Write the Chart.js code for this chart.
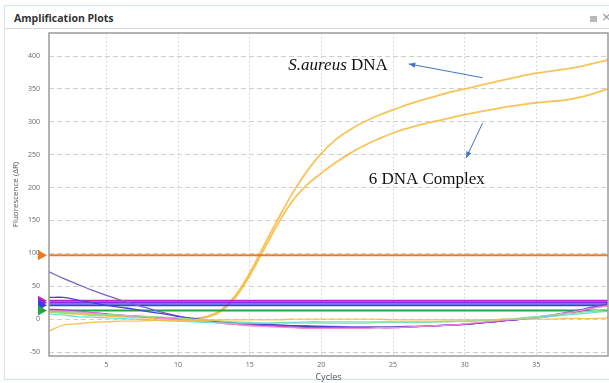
<!DOCTYPE html>
<html lang="en">
<head>
    <meta charset="UTF-8">
    <title>Amplification Plots</title>
    <script src="https://cdn.jsdelivr.net/npm/chart.js"></script>
    <style>
        html, body { margin: 0; padding: 0; background: #fff; }
        #panel {
            position: absolute; left: 4px; top: 5px; width: 620px; height: 375px;
            border: 1px solid #cfe3f5; border-right: none; box-sizing: border-box;
        }
        #header {
            position: absolute; left: 0; top: 0; right: 0; height: 22px;
            border-bottom: 1px solid #d8d8d8;
        }
        #title {
            position: absolute; left: 9px; top: 5px;
            font: bold 10.5px "Open Sans", sans-serif; color: #333;
        }
        #icon-box { position: absolute; left: 585px; top: 10px; width: 7px; height: 6px; background: #b8b8b8; }
        #icon-x { position: absolute; left: 596px; top: 3px; font: 13px "DejaVu Sans", sans-serif; color: #999; }
        #chart-wrap { position: absolute; left: 0; top: 0; width: 609px; height: 383px; }
    </style>
</head>
<body>
    <div id="panel">
        <div id="header">
            <div id="title">Amplification Plots</div>
            <div id="icon-box"></div>
            <div id="icon-x">×</div>
        </div>
    </div>
    <div id="chart-wrap"><canvas id="ampChart" width="609" height="383"></canvas></div>

    <script>
        // cycles 1..40
        const cycles = [1,2,3,4,5,6,7,8,9,10,11,12,13,14,15,16,17,18,19,20,
                        21,22,23,24,25,26,27,28,29,30,31,32,33,34,35,36,37,38,39,40];
        const xTicks = [5, 10, 15, 20, 25, 30, 35];
        const yTicks = [-50, 0, 50, 100, 150, 200, 250, 300, 350, 400];

        // amplified curves
        const saureus = [12,10,9,7,6,5,4,3,2,1,1,4,14,36,70,112,153,192,225,252,
                         273,288,300,310,318,326,333,339,345,350,355,360,365,370,374,377,380,384,389,394];
        const complex6 = [11,9,8,6,5,4,3,2,1,0,0,3,12,33,66,106,146,180,204,222,
                          238,252,264,274,283,290,296,301,306,311,315,319,323,326,329,331,333,337,343,350];

        // non amplified baselines
        const baseSlate = [72,62,53,44,36,29,22,16,10,5,1,-2,-4,-6,-7,-8,-9,-10,-10,-11,
                           -11,-12,-12,-12,-12,-12,-11,-10,-9,-8,-6,-4,-2,0,3,6,10,14,19,24];
        const baseBlue = [33,33,29,25,21,18,15,11,8,4,1,-2,-4,-6,-7,-8,-9,-10,-11,-11,
                          -12,-12,-12,-12,-12,-11,-11,-10,-9,-8,-6,-4,-2,0,2,5,9,13,18,23];
        const baseMagenta = [15,14,12,10,8,6,5,3,2,0,-2,-4,-6,-8,-9,-10,-11,-12,-13,-13,
                             -13,-13,-13,-13,-13,-12,-11,-10,-9,-8,-6,-4,-2,0,2,5,8,12,17,22];
        const basePink = [13,12,11,9,7,6,4,3,1,0,-2,-4,-6,-8,-10,-11,-12,-13,-14,-14,
                          -14,-14,-14,-13,-13,-12,-11,-10,-9,-7,-5,-3,-1,1,3,6,9,13,17,20];
        const baseCyan = [8,6,4,3,2,1,0,-1,-2,-3,-4,-5,-6,-6,-6,-6,-5,-5,-4,-4,
                          -4,-4,-4,-4,-4,-4,-4,-4,-3,-3,-2,-1,0,1,2,4,6,8,10,12];
        const baseGreen = [11,10,9,8,7,6,5,4,3,2,0,-1,-3,-4,-5,-6,-6,-6,-6,-6,
                           -6,-6,-6,-5,-5,-5,-5,-4,-4,-3,-2,-1,0,2,4,6,8,10,13,15];
        const baseYellow = [-18,-9,-7,-5,-4,-3,-3,-2,-2,-2,-2,-2,-1,-1,-1,-1,-1,0,0,0,
                            0,0,0,0,-1,-1,-1,-1,-1,-1,-1,-1,0,0,0,0,1,1,1,2];

        // thresholds
        const thrValues = [97, 28, 25, 21, 13];
        const thrColors = ['#ee7a22', '#c41fbf', '#8a2be2', '#3a3ee0', '#21a845'];

        function pts(arr) {
            return arr.map((v, i) => ({ x: cycles[i], y: v }));
        }
        function line(arr, color, width) {
            return {
                data: pts(arr), borderColor: color, borderWidth: width || 1.3,
                pointRadius: 0, fill: false, tension: 0.4
            };
        }

        const datasets = [
            line(baseYellow, 'rgba(247,190,70,0.9)'),
            line(baseCyan, '#6fe3d2'),
            line(baseGreen, '#8fe08f'),
            line(basePink, '#f58ad0'),
            line(baseMagenta, '#b03cc8'),
            line(baseBlue, '#4b3fd8'),
            line(baseSlate, '#7a63c8')
        ];
        thrValues.forEach((t, i) => {
            datasets.push({
                data: [{ x: cycles[0], y: t }, { x: cycles[cycles.length - 1], y: t }],
                borderColor: thrColors[i], borderWidth: 2, pointRadius: 0, fill: false
            });
        });
        datasets.push(line(saureus, 'rgba(247,185,60,0.85)', 1.8));
        datasets.push(line(complex6, 'rgba(247,185,60,0.85)', 1.8));

        // frame, threshold markers and the text labels
        const extras = {
            id: 'extras',
            afterDatasetsDraw(chart) {
                const ctx = chart.ctx;
                const a = chart.chartArea;
                const xs = chart.scales.x, ys = chart.scales.y;
                ctx.save();
                ctx.strokeStyle = '#9a9a9a';
                ctx.lineWidth = 1.5;
                ctx.strokeRect(a.left, a.top, a.right - a.left, a.bottom - a.top);

                thrValues.forEach((t, i) => {
                    const y = ys.getPixelForValue(t);
                    const x = a.left - 2;
                    ctx.fillStyle = thrColors[i];
                    ctx.beginPath();
                    ctx.moveTo(x, y);
                    ctx.lineTo(x - 9, y - 5);
                    ctx.lineTo(x - 9, y + 5);
                    ctx.closePath();
                    ctx.fill();
                });

                ctx.fillStyle = '#111';
                ctx.textBaseline = 'middle';
                let tx = xs.getPixelForValue(17.7), ty = ys.getPixelForValue(386);
                ctx.font = 'italic 17px "Liberation Serif"';
                ctx.fillText('S.aureus', tx, ty);
                tx += ctx.measureText('S.aureus ').width;
                ctx.font = '17px "Liberation Serif"';
                ctx.fillText('DNA', tx, ty);
                ctx.fillText('6 DNA Complex', xs.getPixelForValue(23.3), ys.getPixelForValue(212));

                function arrow(x1, y1, x2, y2) {
                    const p1 = [xs.getPixelForValue(x1), ys.getPixelForValue(y1)];
                    const p2 = [xs.getPixelForValue(x2), ys.getPixelForValue(y2)];
                    const ang = Math.atan2(p2[1] - p1[1], p2[0] - p1[0]);
                    ctx.strokeStyle = '#4472c4';
                    ctx.fillStyle = '#4472c4';
                    ctx.lineWidth = 1;
                    ctx.beginPath();
                    ctx.moveTo(p1[0], p1[1]);
                    ctx.lineTo(p2[0], p2[1]);
                    ctx.stroke();
                    ctx.beginPath();
                    ctx.moveTo(p2[0], p2[1]);
                    ctx.lineTo(p2[0] - 7 * Math.cos(ang - 0.4), p2[1] - 7 * Math.sin(ang - 0.4));
                    ctx.lineTo(p2[0] - 7 * Math.cos(ang + 0.4), p2[1] - 7 * Math.sin(ang + 0.4));
                    ctx.closePath();
                    ctx.fill();
                }
                arrow(31.25, 367, 26.1, 388);
                arrow(31.25, 298, 30.1, 245);
                ctx.restore();
            }
        };

        new Chart(document.getElementById('ampChart'), {
            type: 'line',
            data: { datasets: datasets },
            options: {
                responsive: false,
                animation: false,
                layout: { padding: { top: 33, right: 1, left: 0, bottom: 0 } },
                plugins: { legend: { display: false }, tooltip: { enabled: false } },
                scales: {
                    x: {
                        type: 'linear', min: 1, max: 40,
                        afterBuildTicks: s => { s.ticks = xTicks.map(v => ({ value: v })); },
                        afterFit: s => { s.height = 27; },
                        grid: { color: '#cfcfcf', drawTicks: false, lineWidth: 1 },
                        border: { display: false, dash: [1.5, 2.5] },
                        ticks: { color: '#666', font: { size: 7, family: 'Open Sans' }, padding: 5, maxRotation: 0 },
                        title: { display: true, text: 'Cycles', color: '#555', font: { size: 9, family: 'Open Sans' }, padding: { top: 0, bottom: 0 } }
                    },
                    y: {
                        min: -56, max: 435,
                        afterBuildTicks: s => { s.ticks = yTicks.map(v => ({ value: v })); },
                        afterFit: s => { s.width = 49; },
                        grid: { color: '#cfcfcf', drawTicks: false, lineWidth: 1 },
                        border: { display: false, dash: [5, 3] },
                        ticks: { color: '#666', font: { size: 7, family: 'Open Sans' }, padding: 9 },
                        title: { display: true, text: 'Fluorescence (ΔR)', color: '#555', font: { size: 8, family: 'Open Sans' }, padding: { top: 11, bottom: 0 } }
                    }
                }
            },
            plugins: [extras]
        });
    </script>
</body>
</html>
